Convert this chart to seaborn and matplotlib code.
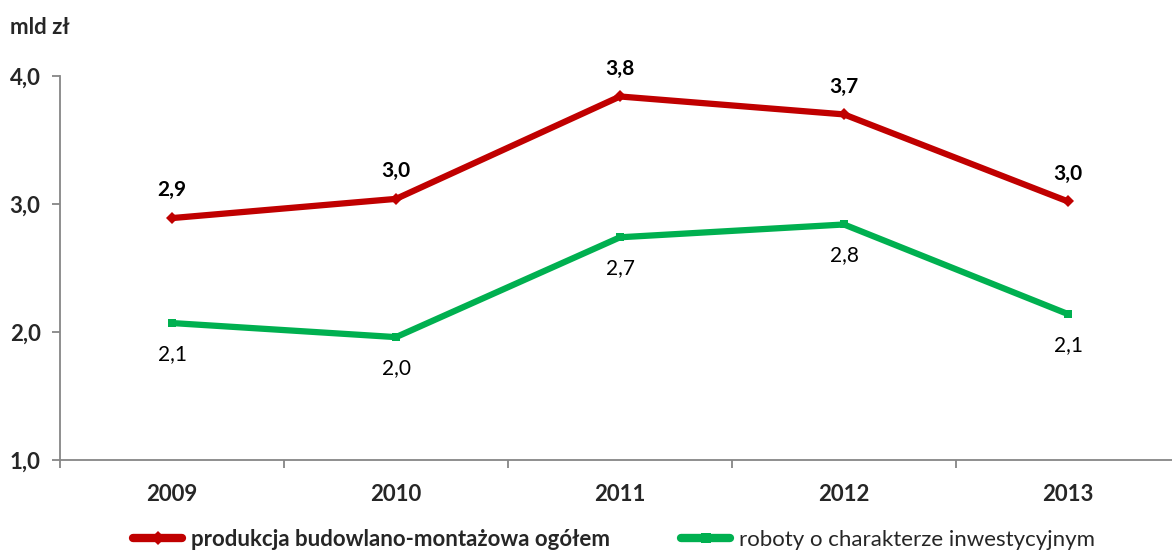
import matplotlib
matplotlib.use("Agg")
import matplotlib.pyplot as plt
import seaborn as sns
import pandas as pd
from matplotlib.ticker import FixedLocator, NullFormatter
from matplotlib.lines import Line2D

years = ["2009", "2010", "2011", "2012", "2013"]
produkcja = [2.89, 3.04, 3.84, 3.70, 3.02]
roboty = [2.07, 1.96, 2.74, 2.84, 2.14]
series_names = ["produkcja budowlano-montażowa ogółem", "roboty o charakterze inwestycyjnym"]
y_ticks = [1.0, 2.0, 3.0, 4.0]

sns.set_theme(style="white")
plt.rcParams["font.family"] = ["Lato", "DejaVu Sans"]

df = pd.DataFrame({
    "rok": list(range(len(years))) * 2,
    "wartosc": produkcja + roboty,
    "seria": [series_names[0]] * len(years) + [series_names[1]] * len(years),
})

fig = plt.figure(figsize=(11.72, 5.51), dpi=100)
ax = fig.add_axes([60 / 1172, (551 - 460) / 551, 1120 / 1172, 384 / 551])

colors = {series_names[0]: "#C00000", series_names[1]: "#00B050"}
markers = {series_names[0]: "D", series_names[1]: "s"}
sns.lineplot(data=df, x="rok", y="wartosc", hue="seria", style="seria",
             palette=colors, markers=markers, dashes=False, linewidth=4.5,
             markersize=6, markeredgewidth=0, ax=ax, legend=False)

ax.set_xlim(-0.5, len(years) - 0.5)
ax.set_ylim(1.0, 4.0)
ax.set_yticks(y_ticks)
ax.set_yticklabels([f"{v:.1f}".replace(".", ",") for v in y_ticks],
                   fontsize=16, fontweight="bold")
ax.set_xticks(range(len(years)))
ax.set_xticklabels(years, fontsize=16, fontweight="bold")
ax.xaxis.set_minor_locator(FixedLocator([i - 0.5 for i in range(len(years) + 1)]))
ax.xaxis.set_minor_formatter(NullFormatter())
ax.tick_params(axis="x", which="major", length=0, pad=17)
ax.tick_params(axis="x", which="minor", length=6, width=1.3, color="#868686", direction="out", bottom=True)
ax.tick_params(axis="y", length=6, width=1.3, color="#868686", direction="out", left=True, pad=8)
ax.set_xlabel("")
ax.set_ylabel("")
for s in ["top", "right"]:
    ax.spines[s].set_visible(False)
for s in ["left", "bottom"]:
    ax.spines[s].set_color("#868686")
    ax.spines[s].set_linewidth(1.3)

for i, v in enumerate(produkcja):
    ax.annotate(f"{v:.1f}".replace(".", ","), (i, v), xytext=(0, 20), textcoords="offset points",
                ha="center", va="center", fontsize=15, fontweight="bold", color="black")
for i, v in enumerate(roboty):
    ax.annotate(f"{v:.1f}".replace(".", ","), (i, v), xytext=(0, -22), textcoords="offset points",
                ha="center", va="center", fontsize=15, color="black")

fig.text(10 / 1172, 1 - 28 / 551, "mld zł", fontsize=16, fontweight="bold", va="center", ha="left")

handles = [Line2D([], [], color=colors[n], lw=6, marker=markers[n], markersize=7, markeredgewidth=0)
           for n in series_names]
leg = fig.legend(handles, series_names, loc="center", bbox_to_anchor=(0.524, 1 - 539 / 551),
                 ncol=2, frameon=False, fontsize=16, handlelength=2.2, columnspacing=3.2,
                 handletextpad=0.4)
leg.get_texts()[0].set_fontweight("bold")

fig.savefig("out.png", dpi=100)
